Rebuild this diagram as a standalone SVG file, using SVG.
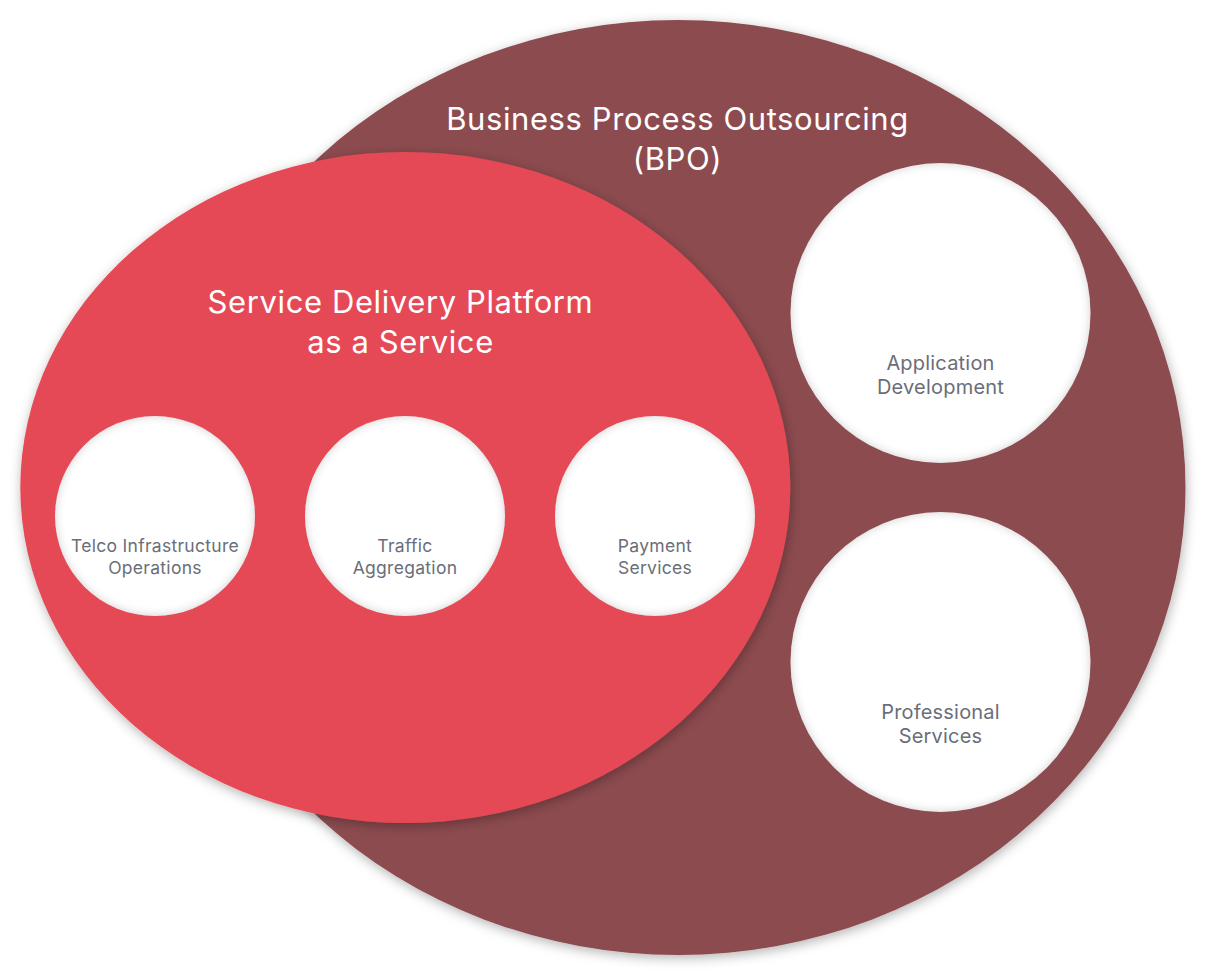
<svg xmlns="http://www.w3.org/2000/svg" width="1206" height="976" viewBox="0 0 1206 976">
<defs>
<filter id="drop" x="-10%" y="-10%" width="120%" height="120%">
<feGaussianBlur in="SourceAlpha" stdDeviation="6"/>
<feOffset dx="1" dy="3" result="b"/>
<feFlood flood-color="#000" flood-opacity="0.3"/>
<feComposite in2="b" operator="in" result="s"/>
<feMerge><feMergeNode in="s"/><feMergeNode in="SourceGraphic"/></feMerge>
</filter>
<filter id="inner" x="-20%" y="-20%" width="140%" height="140%">
<feFlood flood-color="#000" flood-opacity="0.4" result="f"/>
<feComposite in="f" in2="SourceAlpha" operator="out" result="inv"/>
<feGaussianBlur in="inv" stdDeviation="5" result="blur"/>
<feComposite in="blur" in2="SourceAlpha" operator="in" result="in"/>
<feMerge><feMergeNode in="SourceGraphic"/><feMergeNode in="in"/></feMerge>
</filter>
</defs>
<style>
.title{font-family:Inter,"Noto Sans",sans-serif;font-size:31px;letter-spacing:0.6px;fill:#ffffff;text-anchor:middle}
.lbl{font-family:Inter,"Noto Sans",sans-serif;font-size:17.5px;letter-spacing:0.3px;fill:#6a6e78;text-anchor:middle}
.lblb{font-family:Inter,"Noto Sans",sans-serif;font-size:20px;letter-spacing:0.2px;fill:#6a6e78;text-anchor:middle}
.node{fill:#ffffff;filter:url(#inner)}
</style>
<rect width="1206" height="976" fill="#ffffff"/>
<g id="bpo">
<ellipse cx="678" cy="487.5" rx="507.5" ry="467.5" fill="#8c4b50" filter="url(#drop)"/>
<text class="title" x="677.5" y="130">Business Process Outsourcing</text>
<text class="title" x="677.5" y="170">(BPO)</text>
</g>
<g id="sdp">
<ellipse cx="405.3" cy="487.5" rx="385" ry="335.5" fill="#e54a56" filter="url(#drop)"/>
<text class="title" x="400.5" y="313">Service Delivery Platform</text>
<text class="title" x="400.5" y="353">as a Service</text>
</g>
<g id="telco">
<circle class="node" cx="155" cy="516" r="100"/>
<text class="lbl" x="155" y="552">Telco Infrastructure</text>
<text class="lbl" x="155" y="574">Operations</text>
</g>
<g id="traffic">
<circle class="node" cx="405" cy="516" r="100"/>
<text class="lbl" x="405" y="552">Traffic</text>
<text class="lbl" x="405" y="574">Aggregation</text>
</g>
<g id="payment">
<circle class="node" cx="655" cy="516" r="100"/>
<text class="lbl" x="655" y="552">Payment</text>
<text class="lbl" x="655" y="574">Services</text>
</g>
<g id="appdev">
<circle class="node" cx="940.5" cy="313" r="150"/>
<text class="lblb" x="940.5" y="370">Application</text>
<text class="lblb" x="940.5" y="394">Development</text>
</g>
<g id="prof">
<circle class="node" cx="940.5" cy="662" r="150"/>
<text class="lblb" x="940.5" y="719">Professional</text>
<text class="lblb" x="940.5" y="743">Services</text>
</g>
<g id="connectors"></g>
</svg>
